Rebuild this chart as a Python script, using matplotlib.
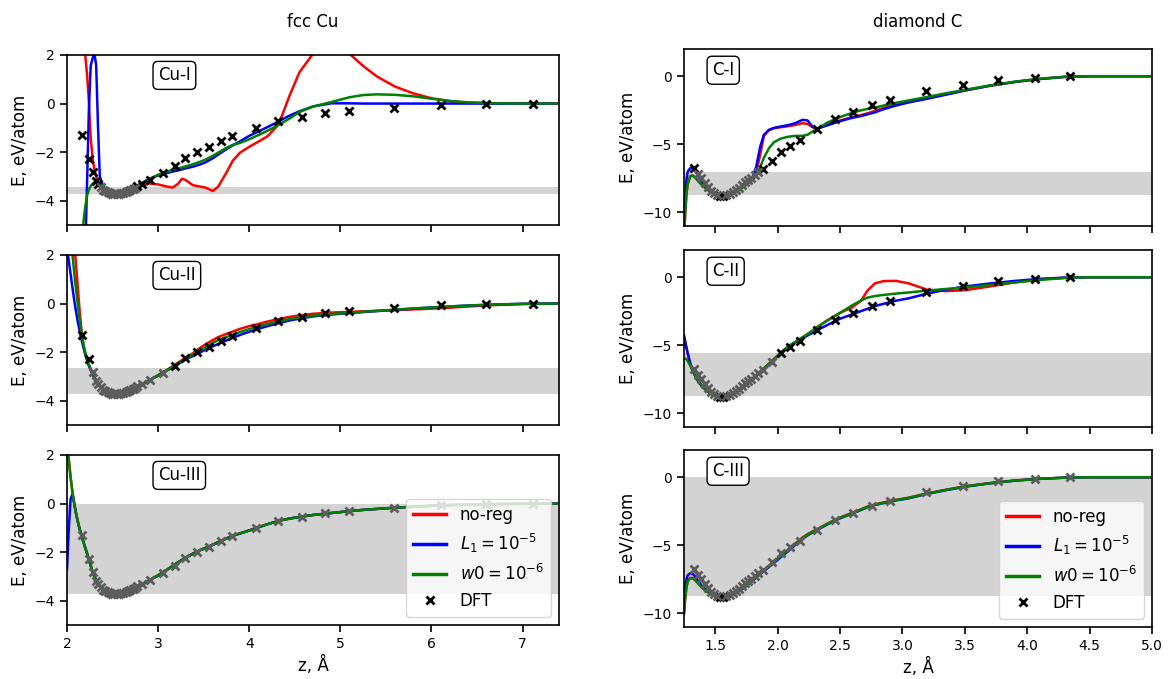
import numpy as np
import matplotlib
matplotlib.use("Agg")
import matplotlib.pyplot as plt
from matplotlib.lines import Line2D

# ---------------------------------------------------------------- fcc Cu
z_cu = [2.00, 2.02, 2.04, 2.06, 2.08, 2.10, 2.12, 2.14, 2.16, 2.18,
        2.20, 2.22, 2.24, 2.26, 2.28, 2.30, 2.32, 2.34, 2.36,
        2.40, 2.45, 2.50, 2.55, 2.60, 2.70, 2.80, 2.90, 3.00, 3.10,
        3.16, 3.22, 3.26, 3.30, 3.38, 3.45, 3.52, 3.60, 3.66, 3.75, 3.82, 3.90,
        4.00, 4.10, 4.20, 4.30, 4.36, 4.44, 4.55, 4.70, 4.90,
        5.10, 5.25, 5.40, 5.60, 5.80,
        6.00, 6.20, 6.40, 6.70, 7.00, 7.40]

cu1_noreg = [9.0, 8.0, 7.0, 6.0, 5.1, 4.4, 3.8, 3.3, 2.9, 2.45,
             2.0, 1.2, 0.1, -1.4, -2.2, -2.7, -3.0, -3.2, -3.35,
             -3.52, -3.64, -3.70, -3.72, -3.71, -3.58, -3.43, -3.29, -3.33, -3.42,
             -3.46, -3.30, -3.10, -3.14, -3.36, -3.41, -3.46, -3.60, -3.42, -2.84, -2.35, -2.02,
             -1.78, -1.57, -1.35, -0.95, -0.50, 0.30, 1.28, 2.05, 2.38,
             2.05, 1.55, 1.12, 0.70, 0.42,
             0.22, 0.10, 0.04, 0.01, 0.0, 0.0]
cu1_l1 = [-20, -20, -20, -20, -20, -20, -20, -20, -16, -11,
          -6.2, -3.3, -0.3, 1.55, 1.85, 2.05, 1.6, -0.9, -3.0,
          -3.45, -3.62, -3.70, -3.72, -3.70, -3.55, -3.32, -3.10, -2.96, -2.86,
          -2.80, -2.75, -2.71, -2.67, -2.60, -2.52, -2.42, -2.25, -2.10, -1.88, -1.72, -1.55,
          -1.33, -1.15, -0.97, -0.78, -0.66, -0.50, -0.32, -0.12, 0.01,
          0.01, 0.0, 0.0, 0.0, 0.0,
          0.0, 0.0, 0.0, 0.0, 0.0, 0.0]
cu1_w0 = [-16, -14.5, -13, -11.5, -10.2, -9.0, -7.9, -6.9, -5.9, -4.9,
          -4.25, -3.8, -3.55, -3.40, -3.30, -3.25, -3.22, -3.23, -3.29,
          -3.42, -3.58, -3.68, -3.72, -3.70, -3.55, -3.35, -3.12, -2.93, -2.80,
          -2.73, -2.67, -2.63, -2.59, -2.50, -2.41, -2.31, -2.15, -2.02, -1.82, -1.70, -1.62,
          -1.47, -1.30, -1.12, -0.93, -0.80, -0.62, -0.35, -0.12, 0.06,
          0.26, 0.35, 0.38, 0.36, 0.30,
          0.20, 0.11, 0.05, 0.01, 0.0, 0.0]

cu2_noreg = [7.0, 5.8, 4.6, 3.5, 2.5, 1.55, 0.6, -0.35, -1.15, -1.7,
             -2.08, -2.35, -2.56, -2.74, -2.90, -3.04, -3.17, -3.29, -3.39,
             -3.55, -3.65, -3.70, -3.72, -3.71, -3.60, -3.40, -3.17, -2.95, -2.72,
             -2.58, -2.43, -2.33, -2.23, -2.05, -1.85, -1.68, -1.50, -1.38, -1.25, -1.15, -1.04,
             -0.93, -0.84, -0.74, -0.66, -0.61, -0.55, -0.49, -0.42, -0.37,
             -0.34, -0.32, -0.30, -0.27, -0.24,
             -0.21, -0.17, -0.12, -0.06, -0.02, 0.0]
cu2_l1 = [2.3, 1.75, 1.2, 0.65, 0.12, -0.35, -0.78, -1.15, -1.5, -1.8,
          -2.07, -2.32, -2.54, -2.73, -2.90, -3.05, -3.18, -3.30, -3.40,
          -3.55, -3.65, -3.70, -3.72, -3.71, -3.60, -3.40, -3.17, -2.96, -2.75,
          -2.62, -2.49, -2.40, -2.31, -2.16, -2.03, -1.90, -1.76, -1.66, -1.52, -1.41, -1.29,
          -1.16, -1.04, -0.93, -0.83, -0.77, -0.70, -0.62, -0.53, -0.45,
          -0.39, -0.35, -0.31, -0.26, -0.21,
          -0.16, -0.12, -0.08, -0.04, -0.01, 0.0]
cu2_w0 = [4.4, 3.5, 2.7, 2.0, 1.25, 0.55, -0.1, -0.7, -1.22, -1.65,
          -2.0, -2.27, -2.50, -2.70, -2.88, -3.03, -3.17, -3.30, -3.40,
          -3.55, -3.65, -3.70, -3.72, -3.71, -3.60, -3.40, -3.17, -2.96, -2.74,
          -2.60, -2.46, -2.36, -2.27, -2.10, -1.95, -1.81, -1.62, -1.50, -1.38, -1.28, -1.17,
          -1.05, -0.94, -0.84, -0.75, -0.70, -0.64, -0.57, -0.50, -0.43,
          -0.38, -0.34, -0.30, -0.25, -0.20,
          -0.16, -0.12, -0.08, -0.04, -0.01, 0.0]

cu3_noreg = [2.7, 1.8, 1.08, 0.47, -0.01, -0.42, -0.76, -1.06, -1.32, -1.58,
             -1.82, -2.05, -2.30, -2.55, -2.80, -3.00, -3.16, -3.29, -3.40,
             -3.55, -3.65, -3.70, -3.72, -3.71, -3.60, -3.40, -3.17, -2.95, -2.71,
             -2.56, -2.41, -2.32, -2.23, -2.06, -1.93, -1.82, -1.69, -1.58, -1.43, -1.32, -1.22,
             -1.10, -0.97, -0.85, -0.74, -0.68, -0.62, -0.55, -0.47, -0.39,
             -0.31, -0.26, -0.22, -0.17, -0.13,
             -0.09, -0.06, -0.04, -0.02, -0.01, 0.0]
cu3_l1 = [-2.7, -1.0, 0.2, 0.38, -0.02, -0.42, -0.76, -1.06, -1.32, -1.58,
          -1.82, -2.05, -2.30, -2.55, -2.80, -3.00, -3.16, -3.29, -3.40,
          -3.55, -3.65, -3.70, -3.72, -3.71, -3.60, -3.40, -3.17, -2.96, -2.72,
          -2.57, -2.42, -2.33, -2.24, -2.07, -1.94, -1.83, -1.70, -1.59, -1.44, -1.33, -1.23,
          -1.11, -0.98, -0.85, -0.74, -0.68, -0.62, -0.55, -0.47, -0.39,
          -0.31, -0.26, -0.22, -0.17, -0.13,
          -0.09, -0.06, -0.04, -0.02, -0.01, 0.0]
cu3_w0 = [2.6, 1.75, 1.05, 0.45, -0.02, -0.42, -0.76, -1.06, -1.32, -1.58,
          -1.82, -2.05, -2.30, -2.55, -2.80, -3.00, -3.16, -3.29, -3.40,
          -3.55, -3.65, -3.70, -3.72, -3.71, -3.60, -3.40, -3.17, -2.96, -2.72,
          -2.57, -2.42, -2.33, -2.24, -2.07, -1.94, -1.83, -1.70, -1.59, -1.44, -1.33, -1.23,
          -1.11, -0.98, -0.85, -0.74, -0.68, -0.62, -0.55, -0.47, -0.39,
          -0.31, -0.26, -0.22, -0.17, -0.13,
          -0.09, -0.06, -0.04, -0.02, -0.01, 0.0]

z_cu_dft = [2.16, 2.24, 2.28, 2.32, 2.345, 2.37, 2.395, 2.42, 2.445, 2.47,
            2.495, 2.52, 2.545, 2.57, 2.595, 2.62, 2.645, 2.67, 2.695, 2.72,
            2.745, 2.77, 2.82, 2.91, 3.05, 3.18, 3.30, 3.43, 3.56, 3.69,
            3.81, 4.07, 4.32, 4.58, 4.83, 5.09, 5.59, 6.10, 6.60, 7.11]
e_cu_dft = [-1.30, -2.30, -2.81, -3.18, -3.33, -3.45, -3.54, -3.61, -3.66, -3.69,
            -3.71, -3.72, -3.72, -3.71, -3.70, -3.67, -3.64, -3.60, -3.56, -3.51,
            -3.46, -3.41, -3.33, -3.15, -2.87, -2.57, -2.26, -2.00, -1.77, -1.54,
            -1.33, -1.02, -0.72, -0.55, -0.40, -0.30, -0.17, -0.07, -0.03, 0.0]

cu_bands = [(-3.74, -3.42), (-3.74, -2.65), (-3.74, 0.0)]
cu_names = ["Cu-I", "Cu-II", "Cu-III"]

# ------------------------------------------------------------ diamond C
z_c = [1.25, 1.26, 1.27, 1.28, 1.30, 1.32, 1.34, 1.37, 1.40, 1.45, 1.50,
       1.55, 1.60, 1.65, 1.70, 1.75, 1.80,
       1.83, 1.86, 1.89, 1.93, 1.97, 2.02, 2.08, 2.14, 2.20,
       2.24, 2.28, 2.32, 2.40, 2.50, 2.60,
       2.67, 2.72, 2.78, 2.85, 2.95, 3.05,
       3.20, 3.35, 3.50, 3.70, 3.90, 4.10, 4.30, 4.50, 5.00]

c1_noreg = [-12.0, -10.0, -8.6, -7.9, -7.35, -7.3, -7.45, -7.75, -8.05, -8.42, -8.70,
            -8.82, -8.76, -8.57, -8.27, -7.92, -7.5,
            -7.0, -5.8, -4.4, -3.95, -3.82, -3.75, -3.68, -3.58, -3.45,
            -3.5, -3.75, -3.85, -3.55, -3.25, -3.0,
            -2.85, -2.72, -2.55, -2.32, -2.1, -1.9,
            -1.62, -1.33, -1.04, -0.70, -0.42, -0.20, -0.05, 0.0, 0.0]
c1_l1 = [-11.5, -9.0, -7.6, -7.0, -6.75, -6.75, -6.95, -7.4, -7.85, -8.35, -8.68,
         -8.80, -8.74, -8.55, -8.25, -7.9, -7.45,
         -6.6, -5.2, -4.3, -3.95, -3.8, -3.7, -3.6, -3.45, -3.2,
         -3.25, -3.7, -3.85, -3.6, -3.3, -3.05,
         -2.92, -2.8, -2.65, -2.42, -2.15, -1.92,
         -1.65, -1.35, -1.05, -0.70, -0.42, -0.20, -0.05, 0.0, 0.0]
c1_w0 = [-12.0, -10.0, -8.6, -7.9, -7.35, -7.3, -7.45, -7.75, -8.05, -8.42, -8.70,
         -8.82, -8.77, -8.58, -8.30, -7.98, -7.6,
         -7.3, -6.7, -6.0, -5.3, -4.85, -4.6, -4.45, -4.38, -4.38,
         -4.3, -4.05, -3.85, -3.4, -3.0, -2.68,
         -2.5, -2.4, -2.3, -2.15, -1.95, -1.78,
         -1.52, -1.25, -1.0, -0.68, -0.40, -0.18, -0.04, 0.0, 0.0]

c2_noreg = [-4.3, -4.75, -5.2, -5.6, -6.35, -6.85, -7.25, -7.75, -8.08, -8.47, -8.73,
            -8.82, -8.75, -8.55, -8.25, -7.9, -7.5,
            -7.22, -6.95, -6.7, -6.36, -6.02, -5.58, -5.12, -4.76, -4.42,
            -4.18, -3.92, -3.65, -3.15, -2.62, -2.2,
            -1.72, -0.98, -0.45, -0.28, -0.27, -0.45,
            -0.92, -1.02, -0.95, -0.68, -0.38, -0.15, -0.04, 0.0, 0.0]
c2_l1 = [-4.3, -4.75, -5.2, -5.6, -6.35, -6.85, -7.25, -7.7, -8.05, -8.45, -8.72,
         -8.82, -8.75, -8.55, -8.25, -7.9, -7.5,
         -7.25, -7.0, -6.75, -6.42, -6.05, -5.6, -5.15, -4.8, -4.48,
         -4.28, -4.08, -3.88, -3.5, -3.05, -2.72,
         -2.48, -2.32, -2.12, -1.95, -1.72, -1.55,
         -1.2, -0.92, -0.68, -0.46, -0.27, -0.12, -0.03, 0.0, 0.0]
c2_w0 = [-6.0, -5.97, -6.02, -6.15, -6.5, -6.9, -7.27, -7.72, -8.07, -8.46, -8.72,
         -8.82, -8.75, -8.55, -8.25, -7.9, -7.5,
         -7.22, -6.95, -6.7, -6.36, -6.02, -5.58, -5.12, -4.76, -4.42,
         -4.18, -3.92, -3.65, -3.18, -2.62, -2.05,
         -1.7, -1.5, -1.38, -1.3, -1.2, -1.12,
         -0.98, -0.86, -0.75, -0.57, -0.38, -0.2, -0.06, 0.0, 0.0]

c3_noreg = [-10.0, -8.8, -8.0, -7.6, -7.4, -7.4, -7.55, -7.85, -8.15, -8.5, -8.74,
            -8.83, -8.77, -8.58, -8.28, -7.94, -7.55,
            -7.3, -7.06, -6.83, -6.5, -6.18, -5.8, -5.35, -4.88, -4.43,
            -4.18, -3.98, -3.8, -3.4, -2.96, -2.6,
            -2.35, -2.16, -2.0, -1.85, -1.66, -1.5,
            -1.18, -0.92, -0.67, -0.43, -0.24, -0.11, -0.03, 0.0, 0.0]
c3_l1 = [-9.8, -8.2, -7.5, -7.2, -7.05, -7.1, -7.3, -7.7, -8.05, -8.45, -8.72,
         -8.83, -8.78, -8.6, -8.32, -7.98, -7.6,
         -7.35, -7.12, -6.9, -6.6, -6.3, -5.92, -5.47, -4.98, -4.52,
         -4.27, -4.06, -3.86, -3.46, -3.02, -2.66,
         -2.4, -2.2, -2.04, -1.9, -1.7, -1.55,
         -1.22, -0.95, -0.7, -0.45, -0.25, -0.12, -0.03, 0.0, 0.0]
c3_w0 = [-10.0, -8.9, -8.1, -7.65, -7.42, -7.42, -7.57, -7.87, -8.17, -8.5, -8.74,
         -8.83, -8.77, -8.59, -8.3, -7.96, -7.58,
         -7.33, -7.1, -6.87, -6.55, -6.24, -5.86, -5.4, -4.93, -4.48,
         -4.22, -4.02, -3.83, -3.43, -2.99, -2.63,
         -2.38, -2.18, -2.02, -1.88, -1.68, -1.52,
         -1.2, -0.93, -0.68, -0.44, -0.25, -0.12, -0.03, 0.0, 0.0]

z_c_dft = [1.33, 1.365, 1.39, 1.415, 1.44, 1.465, 1.49, 1.515, 1.54, 1.565,
           1.59, 1.615, 1.64, 1.665, 1.69, 1.715, 1.74, 1.765, 1.79, 1.815,
           1.84, 1.886, 1.956, 2.028, 2.10, 2.176, 2.313, 2.461, 2.607, 2.755,
           2.898, 3.189, 3.483, 3.768, 4.061, 4.346]
e_c_dft = [-6.72, -7.15, -7.50, -7.85, -8.15, -8.40, -8.58, -8.70, -8.76, -8.77,
           -8.72, -8.63, -8.50, -8.35, -8.18, -8.00, -7.80, -7.60, -7.45, -7.25,
           -7.05, -6.81, -6.22, -5.55, -5.15, -4.68, -3.90, -3.17, -2.63, -2.12,
           -1.73, -1.12, -0.62, -0.30, -0.10, 0.0]

c_bands = [(-8.72, -7.0), (-8.72, -5.6), (-8.72, 0.0)]
c_names = ["C-I", "C-II", "C-III"]

labels = ["no-reg", r"$L_1 = 10^{-5}$", r"$w0 = 10^{-6}$", "DFT"]
colors = ["red", "blue", "green"]

cu_curves = [(cu1_noreg, cu1_l1, cu1_w0), (cu2_noreg, cu2_l1, cu2_w0),
             (cu3_noreg, cu3_l1, cu3_w0)]
c_curves = [(c1_noreg, c1_l1, c1_w0), (c2_noreg, c2_l1, c2_w0),
            (c3_noreg, c3_l1, c3_w0)]

# ---------------------------------------------------------------- figure
W, H = 1170, 679
fig = plt.figure(figsize=(W / 100, H / 100), dpi=100)


def add_panel(x0, x1, y0, y1):
    return fig.add_axes([x0 / W, 1 - y1 / H, (x1 - x0) / W, (y1 - y0) / H])


left_rows = [(55, 225), (255, 425), (455, 625)]
right_rows = [(49, 226), (250, 427), (450, 627)]


def draw_panel(ax, z, curves, zd, ed, band, name, xlim, ylim, xticks, yticks,
               bottom, label_x):
    lo, hi = band
    ax.axhspan(lo, hi, color="lightgray", lw=0, zorder=0)
    for ys, c, lab in zip(curves, colors, labels):
        ax.plot(z, ys, color=c, lw=1.8, label=lab, zorder=2)
    zd = np.asarray(zd)
    ed = np.asarray(ed)
    inside = (ed >= lo - 1e-9) & (ed <= hi + 1e-9)
    ax.plot(zd[~inside], ed[~inside], ls="none", marker="x", color="black",
            ms=6, mew=2, zorder=3)
    ax.plot(zd[inside], ed[inside], ls="none", marker="x", color="#5c5c5c",
            ms=6, mew=2, zorder=3)
    ax.set_xlim(*xlim)
    ax.set_ylim(*ylim)
    ax.set_xticks(xticks)
    ax.set_yticks(yticks)
    ax.tick_params(labelsize=10, length=5, width=1.2)
    for s in ax.spines.values():
        s.set_linewidth(1.2)
    ax.set_ylabel("E, eV/atom", fontsize=12)
    ax.text(label_x, 0.88, name, transform=ax.transAxes, ha="left",
            va="center", fontsize=12, zorder=5,
            bbox=dict(boxstyle="round,pad=0.3", fc="white", ec="black", lw=1))
    if bottom:
        ax.set_xlabel("z, Å", fontsize=12)
        handles = [Line2D([], [], color=c, lw=2.5) for c in colors]
        handles.append(Line2D([], [], ls="none", marker="x", color="black",
                              ms=6, mew=2))
        ax.legend(handles, labels, loc="lower right", fontsize=12)
    else:
        ax.tick_params(labelbottom=False)


for i in range(3):
    ax = add_panel(67, 559, *left_rows[i])
    draw_panel(ax, z_cu, cu_curves[i], z_cu_dft, e_cu_dft, cu_bands[i],
               cu_names[i], (2, 7.4), (-5, 2), [2, 3, 4, 5, 6, 7],
               [-4, -2, 0, 2], i == 2, 0.185)
    axr = add_panel(684, 1152, *right_rows[i])
    draw_panel(axr, z_c, c_curves[i], z_c_dft, e_c_dft, c_bands[i],
               c_names[i], (1.25, 5.0), (-11, 2),
               [1.5, 2.0, 2.5, 3.0, 3.5, 4.0, 4.5, 5.0], [-10, -5, 0],
               i == 2, 0.06)

fig.text(313 / W, 1 - 22 / H, "fcc Cu", ha="center", va="center", fontsize=12)
fig.text(918 / W, 1 - 22 / H, "diamond C", ha="center", va="center",
         fontsize=12)

fig.savefig("out.png", dpi=100)
